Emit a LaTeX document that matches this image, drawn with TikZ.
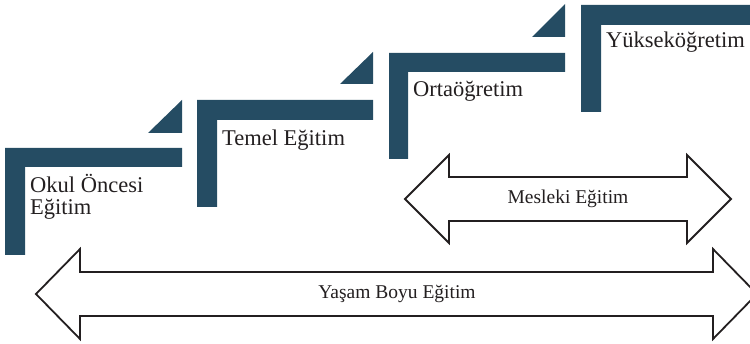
\documentclass[tikz,border=0pt]{standalone}
\usepackage{fontspec}
\setmainfont{Liberation Serif}
\definecolor{stepblue}{RGB}{37,76,99}
\definecolor{inkgray}{RGB}{35,31,32}
\begin{document}
\begin{tikzpicture}[x=1pt,y=-1pt,
    stepbar/.style={fill=stepblue},
    steplabel/.style={anchor=base west,inner sep=0pt,align=left,text=inkgray,
      font=\fontsize{22.5}{22}\selectfont},
    arrowbox/.style={draw=inkgray,line width=1.8pt,fill=white,line join=miter},
    arrowlabel/.style={inner sep=0pt,text=inkgray,font=\fontsize{19.5}{22}\selectfont}]
  \useasboundingbox (0,0) rectangle (750,344);
  % steps
  \fill[stepbar] (5,148) -- (182,148) -- (182,167) -- (25,167) -- (25,255) -- (5,255) -- cycle;
  \fill[stepbar] (148,133) -- (182,133) -- (182,100) -- cycle;
  \fill[stepbar] (197,100) -- (373,100) -- (373,120) -- (217,120) -- (217,207) -- (197,207) -- cycle;
  \fill[stepbar] (340,84) -- (373,84) -- (373,52) -- cycle;
  \fill[stepbar] (389,53) -- (565,53) -- (565,72) -- (408,72) -- (408,159) -- (389,159) -- cycle;
  \fill[stepbar] (532,37) -- (565,37) -- (565,4) -- cycle;
  \fill[stepbar] (581,5) -- (757,5) -- (757,25) -- (601,25) -- (601,112) -- (581,112) -- cycle;
  \node[steplabel] (okul) at (30,215) {Okul Öncesi\\Eğitim};
  \node[steplabel] (temel) at (222,146) {Temel Eğitim};
  \node[steplabel] (orta) at (413,97) {Ortaöğretim};
  \node[steplabel] (yuksek) at (606,48) {Yükseköğretim};
  % arrows
  \draw[arrowbox] (405,199) -- (449,155) -- (449,177) -- (687,177) -- (687,155) -- (731,199)
    -- (687,243) -- (687,221) -- (449,221) -- (449,243) -- cycle;
  \node[arrowlabel] (mesleki) at (568,199) {Mesleki Eğitim};
  \draw[arrowbox] (36,294) -- (80,249) -- (80,272) -- (713,272) -- (713,249) -- (757,294)
    -- (713,339) -- (713,316) -- (80,316) -- (80,339) -- cycle;
  \node[arrowlabel] (yasam) at (397,294) {Yaşam Boyu Eğitim};
\end{tikzpicture}
\end{document}
